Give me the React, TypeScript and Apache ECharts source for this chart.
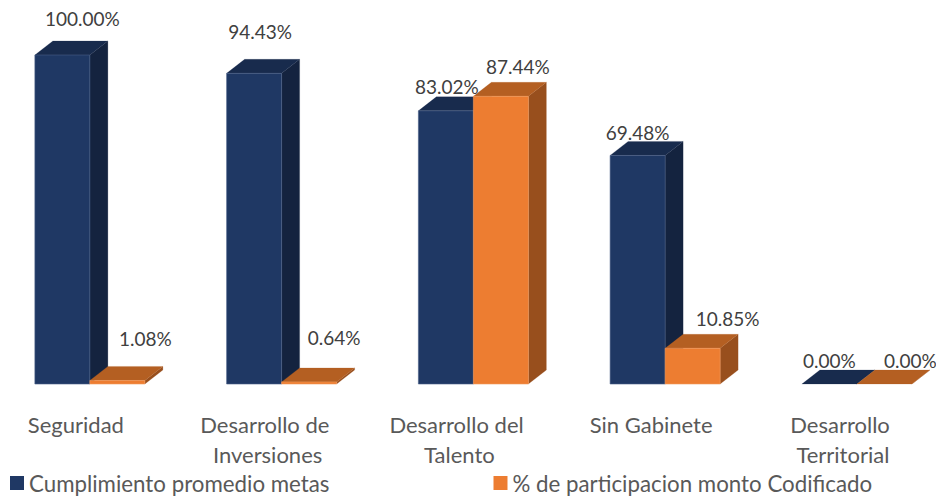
import React, { useEffect, useRef } from "react";
import * as echarts from "echarts";

const categories = ["Seguridad", "Desarrollo de Inversiones", "Desarrollo del Talento", "Sin Gabinete", "Desarrollo Territorial"];
const seriesNames = ["Cumplimiento promedio metas", "% de participacion monto Codificado"];
const cumplimiento = [100.0, 94.43, 83.02, 69.48, 0.0];
const participacion = [1.08, 0.64, 87.44, 10.85, 0.0];

// Styling only: the manual placement of each value label relative to its bar
const labelDxA = [20, 6, 1, 0, 0];
const labelDyA = [-23, -28, -10, -9, -10];
const labelDxB = [28, 25, 17, 35, 26];
const labelDyB = [-28, -30, -16, -16, -10];

const FONT = "Lato";
const BAR_W = 55;
const DEPTH_X = 18;
const DEPTH_Y = 14;
const SHIFT = 14;

const poly = (points: number[][], fill: string, stroke?: string) => ({
  type: "polygon",
  shape: { points },
  style: { fill, stroke: stroke || fill, lineWidth: stroke ? 0.6 : 0.2 },
});

function makeRender(side: number, front: string, top: string, right: string, dxs: number[], dys: number[]) {
  return (params: any, api: any) => {
    const i = api.value(0);
    const v = api.value(1);
    const p = api.coord([i, v]);
    const base = api.coord([i, 0]);
    const xc = p[0] + SHIFT;
    const x0 = side === 0 ? xc - BAR_W : xc;
    const x1 = x0 + BAR_W;
    const yt = p[1];
    const yb = base[1];
    const children: any[] = [
      poly([[x1, yt], [x1 + DEPTH_X, yt - DEPTH_Y], [x1 + DEPTH_X, yb - DEPTH_Y], [x1, yb]], right),
      poly([[x0, yt], [x0 + DEPTH_X, yt - DEPTH_Y], [x1 + DEPTH_X, yt - DEPTH_Y], [x1, yt]], top),
    ];
    if (yb - yt > 0.5) children.push(poly([[x0, yt], [x1, yt], [x1, yb], [x0, yb]], front, side === 0 ? "#4a5f88" : "#f29a5c"));
    children.push({
      type: "text",
      x: (x0 + x1) / 2 + dxs[i],
      y: yt - DEPTH_Y + dys[i],
      style: {
        text: `${v.toFixed(2)}%`,
        fontFamily: FONT,
        fontSize: 19,
        fill: "#404040",
        align: "center",
        verticalAlign: "middle",
      },
    });
    return { type: "group", children };
  };
}

export default function App() {
  const ref = useRef<HTMLDivElement>(null);
  useEffect(() => {
    const chart = echarts.init(ref.current!, null, { renderer: "svg" });
    chart.setOption({
      animation: false,
      backgroundColor: "#ffffff",
      grid: { left: -20, top: 55, width: 958.75, height: 329, outerBoundsMode: "none" },
      legend: {
        left: 10,
        top: 472,
        icon: "rect",
        itemWidth: 14,
        itemHeight: 14,
        itemGap: 164,
        padding: 0,
        data: seriesNames,
        textStyle: { fontFamily: FONT, fontSize: 22.3, color: "#595959" },
      },
      xAxis: {
        type: "category",
        data: categories,
        axisLine: { show: false },
        axisTick: { show: false },
        axisLabel: {
          interval: 0,
          margin: 25,
          width: 170,
          overflow: "break",
          lineHeight: 30.5,
          fontFamily: FONT,
          fontSize: 22,
          color: "#595959",
        },
      },
      yAxis: { type: "value", min: 0, max: 100, show: false },
      series: [
        {
          type: "custom",
          name: seriesNames[0],
          itemStyle: { color: "#1F3864" },
          encode: { x: 0, y: 1 },
          data: cumplimiento.map((v, i) => [i, v]),
          renderItem: makeRender(0, "#1F3864", "#182B4D", "#14233F", labelDxA, labelDyA),
        },
        {
          type: "custom",
          name: seriesNames[1],
          itemStyle: { color: "#ED7D31" },
          encode: { x: 0, y: 1 },
          data: participacion.map((v, i) => [i, v]),
          renderItem: makeRender(1, "#ED7D31", "#B45F22", "#984F1D", labelDxB, labelDyB),
        },
      ],
    });
    return () => chart.dispose();
  }, []);
  return <div ref={ref} style={{ position: "absolute", left: 0, top: 0, width: 936, height: 498 }} />;
}
